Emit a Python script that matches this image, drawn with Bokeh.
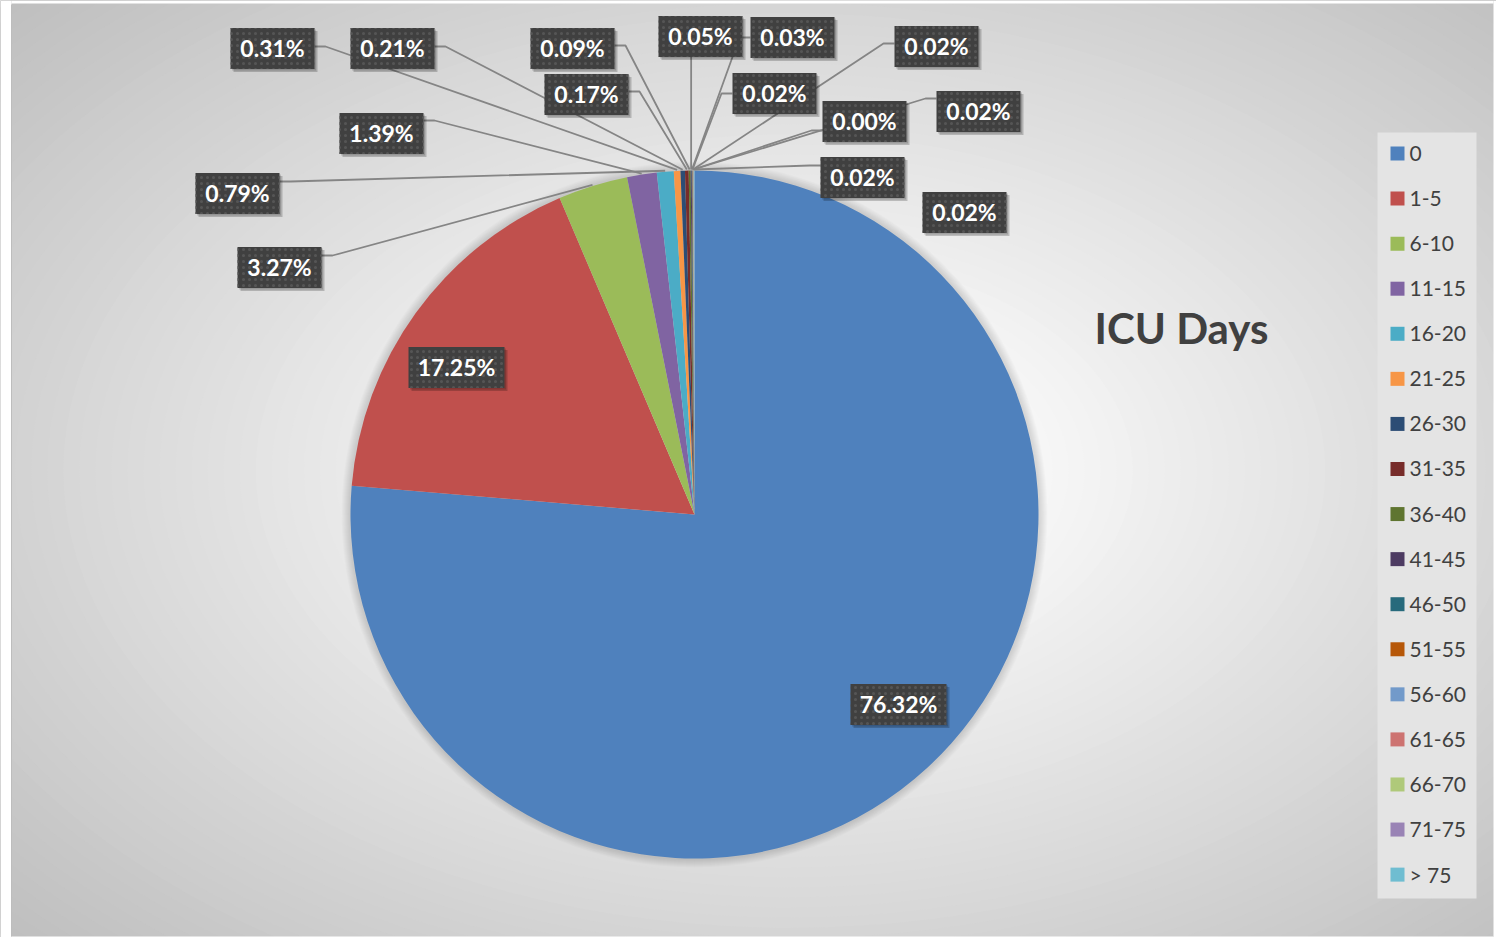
import numpy as np
from bokeh.plotting import figure
from bokeh.models import Range1d, ColumnDataSource
from bokeh.core.properties import value
from bokeh.embed import file_html
from bokeh.resources import INLINE

# ---------------- data ----------------
title = "ICU Days"
categories = ["0", "1-5", "6-10", "11-15", "16-20", "21-25", "26-30", "31-35",
              "36-40", "41-45", "46-50", "51-55", "56-60", "61-65", "66-70",
              "71-75", "> 75"]
percent = [76.32, 17.25, 3.27, 1.39, 0.79, 0.31, 0.21, 0.17, 0.09, 0.05,
           0.03, 0.02, 0.02, 0.00, 0.02, 0.02, 0.02]
colors = ["#4F81BD", "#C0504D", "#9BBB59", "#8064A2", "#4BACC6", "#F79646",
          "#2C4D75", "#772C2A", "#5F7530", "#4D3B62", "#276A7C", "#B65708",
          "#729ACA", "#CD7371", "#AFC97A", "#9983B5", "#6FBDD1"]

# label layout in page pixels: (centre x, centre y, leader side, leader dy)
label_layout = [
    (898, 704, None, 0), (456, 367, None, 0), (279, 267, "R", -12),
    (381, 133, "R", -13), (237, 193, "R", -12), (272, 48, "R", -2),
    (392, 48, "R", -2), (586, 94, "R", -3), (572, 48, "R", -3),
    (700, 36, "B", 0), (792, 37, "L", 0), (774, 93, "L", 0),
    (936, 46, "L", -3), (864, 121, "L", 9), (978, 111, "L", -13),
    (862, 177, "L", -12), (964, 212, None, 0),
]

# ---------------- geometry ----------------
W, H = 1496, 937


def X(px):
    return px


def Y(py):
    return H - py


p = figure(width=W, height=H, x_range=Range1d(0, W), y_range=Range1d(0, H),
           output_backend="svg", toolbar_location=None,
           x_axis_type=None, y_axis_type=None, min_border=0)
p.grid.visible = False
p.outline_line_color = None
p.background_fill_color = "white"
p.border_fill_color = "white"

# radial background gradient (chart area)
gcx, gcy = X(790), Y(470)
ax_, ay_ = 741 * 1.45, 466 * 1.45
ts = np.linspace(1.05, 0.02, 70)
shade = [int(round(255 - 64 * min(1.0, max(0.0, (t - 0.12) / 0.88)))) for t in ts]
p.ellipse(x=[gcx] * len(ts), y=[gcy] * len(ts), width=list(2 * ax_ * ts),
          height=list(2 * ay_ * ts),
          fill_color=["#%02x%02x%02x" % (s, s, s) for s in shade], line_color=None)
# white page strips around chart area
p.quad(left=[0, X(1493)], right=[X(11), W], bottom=[0, 0], top=[H, H],
       fill_color="white", line_color=None)
p.quad(left=[X(11)], right=[X(1493)], bottom=[Y(3)], top=[H],
       fill_color="white", line_color=None)
p.quad(left=[X(11)], right=[X(1493)], bottom=[0], top=[Y(936)],
       fill_color="white", line_color=None)
p.segment(x0=[X(11)], y0=[Y(4)], x1=[X(11)], y1=[Y(936)], line_color="#bdbdbd",
          line_width=1)

# pie
cx, cy, R = X(694), Y(514), 344
vals = np.array(percent, dtype=float)
frac = vals / vals.sum()
cum_end = np.cumsum(frac)
cum_start = cum_end - frac
start_angle = np.pi / 2 - 2 * np.pi * cum_start
end_angle = np.pi / 2 - 2 * np.pi * cum_end
mid = np.pi / 2 - 2 * np.pi * (cum_start + frac / 2)

# soft shadow
for k in range(8):
    p.circle(x=[cx], y=[cy], radius=R + 9 - k, fill_color="black",
             fill_alpha=0.016, line_color=None)

keep = [i for i in range(len(percent)) if frac[i] > 0]
src = ColumnDataSource(dict(start=start_angle[keep], end=end_angle[keep],
                            color=[colors[i] for i in keep],
                            cat=[categories[i] for i in keep]))
p.wedge(x=cx, y=cy, radius=R, start_angle="start", end_angle="end",
        direction="clock", fill_color="color", line_color=None, source=src)

# leader lines
lab_txt = ["%.2f%%" % v for v in percent]
bws = [96 if len(t) > 5 else 84 for t in lab_txt]
BH = 41
lx, ly = [], []
for i, (bx, by, side, dy) in enumerate(label_layout):
    if side is None:
        continue
    w = bws[i]
    axp = cx + (R + 1) * np.cos(mid[i])
    ayp = cy + (R + 1) * np.sin(mid[i])
    if side == "R":
        sx = X(bx + w / 2)
        sy = Y(by + dy)
        lx.append([sx, sx + 11, axp]); ly.append([sy, sy, ayp])
    elif side == "L":
        sx = X(bx - w / 2)
        sy = Y(by + dy)
        lx.append([sx, sx - 11, axp]); ly.append([sy, sy, ayp])
    else:
        sy = Y(by + BH / 2)
        lx.append([axp, axp]); ly.append([sy, ayp])
p.multi_line(xs=lx, ys=ly, line_color="#858585", line_width=1.8)

# data label boxes
bxs = [X(b[0]) for b in label_layout]
bys = [Y(b[1]) for b in label_layout]
p.rect(x=[x + 3 for x in bxs], y=[y - 3 for y in bys], width=bws, height=BH,
       fill_color="black", fill_alpha=0.2, line_color=None)
p.rect(x=[x + 1.5 for x in bxs], y=[y - 1.5 for y in bys], width=bws, height=BH,
       fill_color="black", fill_alpha=0.15, line_color=None)
p.rect(x=bxs, y=bys, width=bws, height=BH, fill_color="#404040", line_color=None,
       hatch_pattern="dot", hatch_color="#555555", hatch_scale=6, hatch_weight=1.5)
p.text(x=bxs, y=[y + 1 for y in bys], text=lab_txt, text_font=value("Lato"),
       text_font_style="bold", text_font_size="23px", text_color="white",
       text_align="center", text_baseline="middle")

# title
p.text(x=[X(1181)], y=[Y(327)], text=[title], text_font=value("Lato"),
       text_font_style="bold", text_font_size="42px", text_color="#404040",
       text_align="center", text_baseline="middle")

# legend
p.quad(left=[X(1377)], right=[X(1476)], top=[Y(132)], bottom=[Y(898)],
       fill_color="#e4e4e4", line_color=None)
rows = [Y(153 + i * 45.07) for i in range(len(categories))]
p.rect(x=[X(1397)] * len(categories), y=rows, width=14, height=14,
       fill_color=colors, line_color=None)
p.text(x=[X(1409)] * len(categories), y=rows, text=categories,
       text_font=value("Lato"), text_font_size="21px", text_color="#404040",
       text_align="left", text_baseline="middle")

open("out.html", "w").write(file_html(p, INLINE))
